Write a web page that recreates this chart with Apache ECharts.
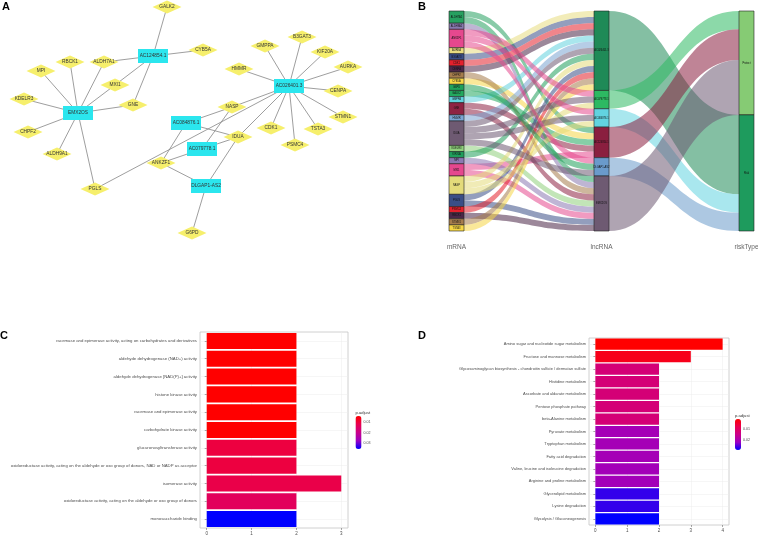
<!DOCTYPE html>
<html><head><meta charset="utf-8">
<script src="https://cdn.jsdelivr.net/npm/echarts@6/dist/echarts.min.js"></script>
<style>html,body{margin:0;padding:0;background:#fff}#c{width:758px;height:535px}</style>
</head><body><div id="c"></div>
<script>
// ---------- Panel A: network ----------
const lncNames = ['EMX2OS','AC124854.1','AC026401.3','AC084876.1','AC079778.1','DLGAP1-AS2'];
const geneNames = ['GALK2','CYB5A','RBCK1','ALDH7A1','MPI','MXI1','KDELR3','GNE','CHPF2','ALDH9A1','PGLS','ANKZF1','G6PD','NASP','IDUA','HMMR','GMPPA','B3GAT3','KIF20A','AURKA','CENPA','STMN1','TSTA3','PSMC4','CDK1'];
// network layout coordinates (layout units)
const layoutNames = ['EMX2OS','AC124854.1','AC026401.3','AC084876.1','AC079778.1','DLGAP1-AS2','GALK2','CYB5A','RBCK1','ALDH7A1','MPI','MXI1','KDELR3','GNE','CHPF2','ALDH9A1','PGLS','ANKZF1','G6PD','NASP','IDUA','HMMR','GMPPA','B3GAT3','KIF20A','AURKA','CENPA','STMN1','TSTA3','PSMC4','CDK1'];
const layoutX = [78,153,289,186,202,206,167,203,70,104,41,115,24,133,28,57,95,161,192,232,238,239,265,302,325,348,338,343,318,295,271];
const layoutY = [113,56,86,123,149,186,7,50,62,62,71,85,99,105,132,154,189,163,233,107,137,69,46,37,52,67,91,117,129,145,128];
const netEdges = {
  'AC124854.1': ['GALK2','CYB5A','ALDH7A1','MXI1','GNE'],
  'EMX2OS': ['RBCK1','MPI','KDELR3','CHPF2','ALDH9A1','PGLS','ALDH7A1','MXI1','GNE'],
  'AC026401.3': ['GMPPA','B3GAT3','KIF20A','AURKA','HMMR','CENPA','STMN1','TSTA3','PSMC4','CDK1','NASP','IDUA','PGLS'],
  'AC079778.1': ['ANKZF1','IDUA','NASP'],
  'AC084876.1': ['ANKZF1','IDUA','NASP'],
  'DLGAP1-AS2': ['ANKZF1','IDUA','G6PD']
};

// ---------- Panel B: sankey ----------
const mrnaNames = ['ALDH7A1','ALDH9A1','ANKZF1','AURKA','B3GAT3','CDK1','CENPA','CHPF2','CYB5A','G6PD','GALK2','GMPPA','GNE','HMMR','IDUA','KDELR3','KIF20A','MPI','MXI1','NASP','PGLS','PSMC4','RBCK1','STMN1','TSTA3'];
const lncStage = ['AC026401.3','AC079778.1','AC084876.1','AC124854.1','DLGAP1-AS2','EMX2OS'];
const riskStage = ['Protect','Risk'];
const lncRisk = {'AC026401.3':'Risk','AC079778.1':'Protect','AC084876.1':'Risk','AC124854.1':'Protect','DLGAP1-AS2':'Risk','EMX2OS':'Protect'};
const stageNames = ['mRNA','lncRNA','riskType'];
const mrnaColors = ['#27A060','#8878AE','#E5488E','#E8DC80','#3A4E86','#E3202C','#4B2747','#A57C4C','#F6D645','#1FA05A','#23A85E','#62D2DE','#8E2343','#7AA4D2','#6E5A72','#8FCF7C','#1F9E5B','#8B79B2','#E5488E','#E3DB7A','#3A4E86','#E3202C','#4B2747','#A57C4C','#F6D645'];
const lncColors = ['#1F8A57','#2DB962','#62D3E0','#8A1F3F','#6A9ACB','#6E5A72'];
const riskColors = ['#86CB74','#1E9B5D'];

// ---------- Panel C: GO bar ----------
const cNames = ['racemase and epimerase activity, acting on carbohydrates and derivatives','aldehyde dehydrogenase (NAD+) activity','aldehyde dehydrogenase [NAD(P)+] activity','histone kinase activity','racemase and epimerase activity','carbohydrate kinase activity','glucuronosyltransferase activity','oxidoreductase activity, acting on the aldehyde or oxo group of donors, NAD or NADP as acceptor','isomerase activity','oxidoreductase activity, acting on the aldehyde or oxo group of donors','monosaccharide binding'];
const cCounts = [2,2,2,2,2,2,2,2,3,2,2];
const cPadj = [0.0043,0.0043,0.0043,0.0043,0.0043,0.0043,0.0106,0.0106,0.0115,0.0137,0.0357];
const cTicks = [0,1,2,3];
const cLegendTicks = [0.01,0.02,0.03];

// ---------- Panel D: KEGG bar ----------
const dNames = ['Amino sugar and nucleotide sugar metabolism','Fructose and mannose metabolism','Glycosaminoglycan biosynthesis - chondroitin sulfate / dermatan sulfate','Histidine metabolism','Ascorbate and aldarate metabolism','Pentose phosphate pathway','beta-Alanine metabolism','Pyruvate metabolism','Tryptophan metabolism','Fatty acid degradation','Valine, leucine and isoleucine degradation','Arginine and proline metabolism','Glycerolipid metabolism','Lysine degradation','Glycolysis / Gluconeogenesis'];
const dCounts = [4,3,2,2,2,2,2,2,2,2,2,2,2,2,2];
const dPadj = [0.0009,0.0032,0.0127,0.0127,0.0127,0.0127,0.0127,0.0206,0.0206,0.0206,0.0208,0.0208,0.0268,0.0268,0.0291];
const dTicks = [0,1,2,3,4];
const dLegendTicks = [0.01,0.02];

const FONT = 'Liberation Sans';
const labRamp = ['#FF0000','#E80050','#CA0089','#9B00C2','#0000FF'];

// build graph
const graphNodes = layoutNames.map((n, i) => {
  const isLnc = lncNames.indexOf(n) >= 0;
  return {
    name: n, value: [layoutX[i], layoutY[i]],
    symbol: isLnc ? 'rect' : 'diamond',
    symbolSize: isLnc ? [30, 14] : [29, 13],
    itemStyle: {color: isLnc ? '#2BE6EE' : '#F6EF6C'}
  };
});
const graphLinks = [];
Object.keys(netEdges).forEach(l => netEdges[l].forEach(g => graphLinks.push({source: l, target: g})));

// build sankey
const sNodes = [];
mrnaNames.forEach((n, i) => sNodes.push({name: n, itemStyle: {color: mrnaColors[i]}}));
lncStage.forEach((n, i) => sNodes.push({name: n, itemStyle: {color: lncColors[i]}}));
riskStage.forEach((n, i) => sNodes.push({name: n, itemStyle: {color: riskColors[i]}}));
const sLinks = [];
Object.keys(netEdges).forEach(l => netEdges[l].forEach(g => sLinks.push({source: g, target: l, value: 1})));
lncStage.forEach(l => sLinks.push({source: l, target: lncRisk[l], value: netEdges[l].length}));

function barAxisX(grid, min, max, split, ticks) {
  return {gridIndex: grid, type: 'value', min: min, max: max, splitNumber: split,
    axisLine: {show: false},
    axisTick: {show: true, customValues: ticks, length: 2, lineStyle: {color: '#555', width: 0.5}},
    axisLabel: {customValues: ticks, fontSize: 4.5, color: '#4d4d4d', margin: 3, fontFamily: FONT},
    splitLine: {show: true, lineStyle: {color: '#ececec', width: 0.5}}};
}
function barAxisY(grid, names, fs) {
  return {gridIndex: grid, type: 'category', data: names, inverse: true,
    axisLine: {show: false},
    axisTick: {show: true, alignWithLabel: true, length: 2, lineStyle: {color: '#555', width: 0.5}},
    axisLabel: {interval: 0, fontSize: fs, color: '#4d4d4d', margin: 3, fontFamily: FONT},
    splitLine: {show: true, alignWithLabel: true, lineStyle: {color: '#ececec', width: 0.5}}};
}
function legendAxisY(grid, min, max, ticks) {
  return {gridIndex: grid, type: 'value', min: min, max: max, inverse: true, position: 'right',
    axisLine: {show: false}, splitLine: {show: false},
    axisTick: {show: false},
    axisLabel: {customValues: ticks, fontSize: 3.6, color: '#4d4d4d', margin: 2, fontFamily: FONT,
      formatter: v => v.toFixed(2)}};
}

const option = {
  animation: false,
  backgroundColor: '#fff',
  textStyle: {fontFamily: FONT},
  title: [
    {text: 'A', left: 2, top: 1, padding: 0, textStyle: {fontSize: 11, fontWeight: 'bold', color: '#000', fontFamily: FONT}},
    {text: 'B', left: 418, top: 1, padding: 0, textStyle: {fontSize: 11, fontWeight: 'bold', color: '#000', fontFamily: FONT}},
    {text: 'C', left: 0, top: 330, padding: 0, textStyle: {fontSize: 11, fontWeight: 'bold', color: '#000', fontFamily: FONT}},
    {text: 'D', left: 418, top: 330, padding: 0, textStyle: {fontSize: 11, fontWeight: 'bold', color: '#000', fontFamily: FONT}},
    {text: 'p.adjust', left: 355.5, top: 410.5, padding: 0, textStyle: {fontSize: 4.2, fontWeight: 'normal', color: '#333', fontFamily: FONT}},
    {text: 'p.adjust', left: 735, top: 413.5, padding: 0, textStyle: {fontSize: 4.2, fontWeight: 'normal', color: '#333', fontFamily: FONT}}
  ],
  grid: [
    {left: 0, top: 0, width: 380, height: 260, outerBoundsMode: 'none'},
    {left: 456.5, top: 11, width: 290, height: 220, outerBoundsMode: 'none'},
    {left: 200, top: 332, width: 148, height: 196, show: true, borderColor: '#c4c4c4', borderWidth: 0.8, backgroundColor: '#fff', outerBoundsMode: 'none'},
    {left: 589, top: 338, width: 140, height: 187, show: true, borderColor: '#c4c4c4', borderWidth: 0.8, backgroundColor: '#fff', outerBoundsMode: 'none'},
    {left: 355.5, top: 416, width: 6, height: 33, outerBoundsMode: 'none'},
    {left: 735, top: 419, width: 6, height: 31, outerBoundsMode: 'none'}
  ],
  xAxis: [
    {gridIndex: 0, type: 'value', min: 0, max: 380, show: false},
    {gridIndex: 1, type: 'category', data: stageNames, boundaryGap: false,
      axisLine: {show: false}, axisTick: {show: false}, splitLine: {show: false},
      axisLabel: {fontSize: 6.5, color: '#666', margin: 13, fontFamily: FONT, interval: 0}},
    barAxisX(2, -0.15, 3.15, 7, cTicks),
    barAxisX(3, -0.2, 4.2, 9, dTicks),
    {gridIndex: 4, type: 'value', show: false},
    {gridIndex: 5, type: 'value', show: false}
  ],
  yAxis: [
    {gridIndex: 0, type: 'value', min: 0, max: 260, inverse: true, show: false},
    {gridIndex: 1, type: 'value', show: false},
    barAxisY(2, cNames, 4.3),
    barAxisY(3, dNames, 4.0),
    legendAxisY(4, 0.0043, 0.0357, cLegendTicks),
    legendAxisY(5, 0.0009, 0.0291, dLegendTicks)
  ],
  visualMap: [
    {type: 'continuous', seriesIndex: 2, dimension: 2, min: 0.0043, max: 0.0357, inverse: true,
      inRange: {color: labRamp}, left: 355.5, top: 416, itemWidth: 6, itemHeight: 33, padding: 0,
      calculable: false, hoverLink: false, text: null, showLabel: false},
    {type: 'continuous', seriesIndex: 3, dimension: 2, min: 0.0009, max: 0.0291, inverse: true,
      inRange: {color: labRamp}, left: 735, top: 419, itemWidth: 6, itemHeight: 31, padding: 0,
      calculable: false, hoverLink: false, text: null, showLabel: false}
  ],
  series: [
    {type: 'graph', coordinateSystem: 'cartesian2d', xAxisIndex: 0, yAxisIndex: 0,
      data: graphNodes, links: graphLinks, silent: true,
      lineStyle: {color: '#858585', width: 0.8, opacity: 1, curveness: 0},
      label: {show: true, position: 'inside', fontSize: 4.8, color: '#333', fontFamily: FONT},
      emphasis: {disabled: true}},
    {type: 'sankey', left: 449, top: 11, width: 305, height: 220, nodeWidth: 15, nodeGap: 0,
      layoutIterations: 0, draggable: false, silent: true, emphasis: {disabled: true},
      data: sNodes, links: sLinks,
      itemStyle: {borderColor: '#222', borderWidth: 0.6},
      lineStyle: {color: 'source', opacity: 0.55, curveness: 0.5},
      label: {show: true, position: 'inside', fontSize: 2.6, color: '#111', fontFamily: FONT}},
    {type: 'bar', xAxisIndex: 2, yAxisIndex: 2, barCategoryGap: '10%', silent: true,
      encode: {x: 0, y: 1},
      data: cNames.map((n, i) => [cCounts[i], n, cPadj[i]])},
    {type: 'bar', xAxisIndex: 3, yAxisIndex: 3, barCategoryGap: '10%', silent: true,
      encode: {x: 0, y: 1},
      data: dNames.map((n, i) => [dCounts[i], n, dPadj[i]])}
  ]
};
const chart = echarts.init(document.getElementById('c'), null, {renderer: 'canvas'});
chart.setOption(option);
</script></body></html>
